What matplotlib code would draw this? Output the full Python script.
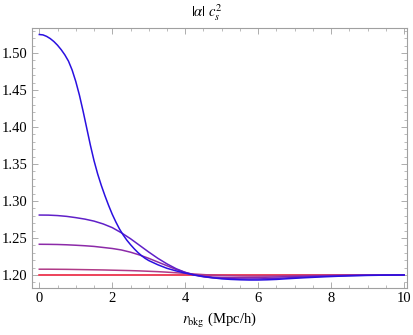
import matplotlib
matplotlib.use("Agg")
import matplotlib.pyplot as plt
from matplotlib.ticker import MultipleLocator, FormatStrFormatter

plt.rcParams["font.family"] = ["Liberation Serif", "DejaVu Serif"]
plt.rcParams["mathtext.fontset"] = "stix"

# radius grid (Mpc/h)
r = [0.0, 0.25, 0.5, 0.75, 1.0, 1.25, 1.5, 1.75, 2.0, 2.25, 2.5, 2.75, 3.0,
     3.25, 3.5, 3.75, 4.0, 4.25, 4.5, 4.75, 5.0, 5.25, 5.5, 5.75, 6.0, 6.25,
     6.5, 6.75, 7.0, 7.25, 7.5, 7.75, 8.0, 8.25, 8.5, 8.75, 9.0, 9.25, 9.5,
     9.75, 10.0]

# finer grid for the steep curve
r_a = [0.0, 0.1, 0.2, 0.3, 0.4, 0.5, 0.6, 0.7, 0.8, 0.9, 1.0, 1.1, 1.2, 1.3,
       1.4, 1.5, 1.6, 1.7, 1.8, 1.9, 2.0, 2.1, 2.2, 2.3, 2.4, 2.5, 2.6, 2.7,
       2.8, 2.9, 3.0, 3.25, 3.5, 3.75, 4.0, 4.25, 4.5, 4.75, 5.0, 5.25, 5.5,
       5.75, 6.0, 6.25, 6.5, 6.75, 7.0, 7.25, 7.5, 7.75, 8.0, 8.25, 8.5,
       8.75, 9.0, 9.25, 9.5, 9.75, 10.0]

# |alpha| c_s^2 curves
curve_a = [1.525, 1.5245, 1.5225, 1.5195, 1.5155, 1.5105, 1.5045, 1.4975,
           1.4890, 1.4770, 1.4615, 1.4430, 1.4215, 1.3985, 1.3755, 1.3545,
           1.3365, 1.3210, 1.3070, 1.2940, 1.2820, 1.2715, 1.2620, 1.2540,
           1.2470, 1.2410, 1.2355, 1.2305, 1.2262, 1.2225, 1.2195,
           1.2138, 1.209, 1.2055, 1.2025, 1.200, 1.198, 1.1962, 1.1948,
           1.1940, 1.1935, 1.1932, 1.1932, 1.1935, 1.1940, 1.1948, 1.1955,
           1.1962, 1.1968, 1.1974, 1.1979, 1.1984, 1.1988, 1.1991, 1.1994,
           1.1996, 1.1998, 1.1999, 1.2000]
curve_b = [1.281, 1.2809, 1.2803, 1.2792, 1.2775, 1.2755, 1.2728, 1.2690,
           1.2640, 1.2570, 1.2490, 1.2400, 1.2310, 1.2225, 1.2150, 1.2085,
           1.2035, 1.1998, 1.1975, 1.1962, 1.1955, 1.1950, 1.1947, 1.1946,
           1.1947, 1.1950, 1.1955, 1.1960, 1.1966, 1.1972, 1.1977, 1.1982,
           1.1986, 1.1989, 1.1992, 1.1995, 1.1997, 1.1998, 1.1999, 1.2000,
           1.2000]
curve_c = [1.2415, 1.2414, 1.2412, 1.2408, 1.2402, 1.2395, 1.2386, 1.2372,
           1.2358, 1.2338, 1.2308, 1.2270, 1.2225, 1.2175, 1.2125, 1.2075,
           1.2035, 1.2003, 1.1983, 1.1972, 1.1967, 1.1965, 1.1964, 1.1965,
           1.1967, 1.1970, 1.1973, 1.1977, 1.1980, 1.1984, 1.1987, 1.1990,
           1.1992, 1.1994, 1.1996, 1.1997, 1.1998, 1.1999, 1.2000, 1.2000,
           1.2000]
curve_d = [1.2078, 1.2078, 1.2077, 1.2076, 1.2074, 1.2072, 1.2070, 1.2068,
           1.2065, 1.2062, 1.2059, 1.2055, 1.2050, 1.2045, 1.2038, 1.2030,
           1.2022, 1.2013, 1.2005, 1.1998, 1.1993, 1.1990, 1.1987, 1.1986,
           1.1986, 1.1987, 1.1988, 1.1990, 1.1991, 1.1993, 1.1994, 1.1995,
           1.1996, 1.1997, 1.1998, 1.1999, 1.1999, 1.2000, 1.2000, 1.2000,
           1.2000]
curve_e = [1.2] * len(r)

fig = plt.figure(figsize=(4.13, 3.35), dpi=100)
ax = fig.add_axes([0.0775, 0.1403, 0.908, 0.7761])

ax.plot(r, curve_e, color="#e8102e", lw=1.1)
ax.plot(r, curve_d, color="#b03a88", lw=1.1)
ax.plot(r, curve_c, color="#8c2aa8", lw=1.1)
ax.plot(r, curve_b, color="#6020c8", lw=1.1)
ax.plot(r_a, curve_a, color="#2a10e0", lw=1.1)

ax.set_xlim(-0.2, 10.08)
ax.set_ylim(1.1824, 1.5338)

ax.xaxis.set_major_locator(MultipleLocator(2))
ax.xaxis.set_minor_locator(MultipleLocator(0.5))
ax.yaxis.set_major_locator(MultipleLocator(0.05))
ax.yaxis.set_minor_locator(MultipleLocator(0.01))
ax.yaxis.set_major_formatter(FormatStrFormatter("%.2f"))

for s in ax.spines.values():
    s.set_color("#a0a0a0")
    s.set_linewidth(0.8)
ax.tick_params(which="both", direction="in", top=True, right=True,
               color="#a0a0a0", labelsize=10.5, pad=3)
ax.tick_params(which="major", length=4, width=0.6)
ax.tick_params(which="minor", length=2, width=0.5)

ax.set_xlabel(r"$r_{\rm bkg}$ (Mpc/h)", fontsize=10.5, labelpad=4)
fig.text(0.5, 0.962, r"$|\alpha|\ c_s^2$", ha="center", va="center",
         fontsize=10.5)

fig.savefig("out.png", dpi=100)
